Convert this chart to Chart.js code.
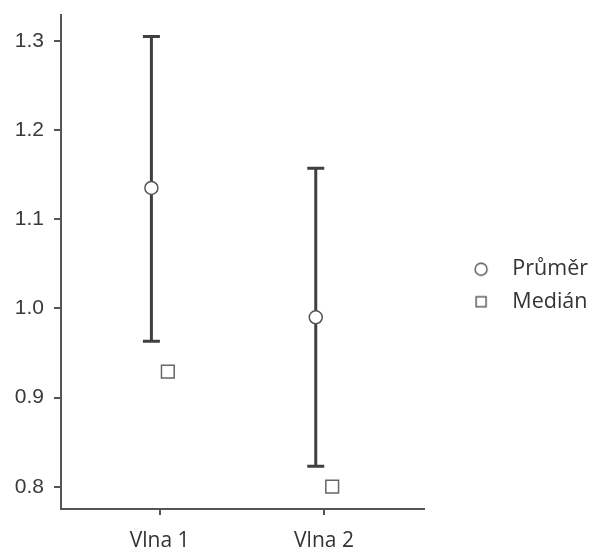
<!DOCTYPE html>
<html><head><meta charset="utf-8">
<script src="https://cdn.jsdelivr.net/npm/chart.js@4"></script>
<style>html,body{margin:0;padding:0;background:#fff;overflow:hidden}</style>
</head><body>
<canvas id="c" width="593" height="550"></canvas>
<script>
const categories = ['Vlna 1', 'Vlna 2'];
const seriesLabels = ['Průměr', 'Medián'];
const means = [1.135, 0.990];
const lowerCI = [0.963, 0.823];
const upperCI = [1.305, 1.157];
const medians = [0.929, 0.800];
const yTicks = [0.8, 0.9, 1.0, 1.1, 1.2, 1.3];

const MEAN_SHIFT = -0.05;
const MEDIAN_SHIFT = 0.05;
const CAP = 8.5;
const AXIS = '#555555';
const TEXT = '#333333';

function markerCanvas(kind) {
  const c = document.createElement('canvas');
  c.width = 16; c.height = 16;
  const g = c.getContext('2d');
  g.strokeStyle = '#555'; g.lineWidth = 1.4; g.fillStyle = '#fff';
  if (kind === 'circle') { g.beginPath(); g.arc(8, 8, 6, 0, Math.PI * 2); g.fill(); g.stroke(); }
  else { g.fillRect(3, 3, 10, 10); g.strokeRect(3, 3, 10, 10); }
  return c;
}
const legendMarkers = [markerCanvas('circle'), markerCanvas('rect')];

const errorBars = {
  id: 'errorBars',
  beforeDatasetsDraw(chart) {
    const {ctx, scales: {x, y}} = chart;
    ctx.save();
    ctx.strokeStyle = '#404040'; ctx.lineWidth = 3; ctx.lineCap = 'butt';
    categories.forEach((c, i) => {
      const px = x.getPixelForValue(i + 1 + MEAN_SHIFT);
      const top = y.getPixelForValue(upperCI[i]);
      const bot = y.getPixelForValue(lowerCI[i]);
      ctx.beginPath();
      ctx.moveTo(px, top); ctx.lineTo(px, bot);
      ctx.moveTo(px - CAP, top); ctx.lineTo(px + CAP, top);
      ctx.moveTo(px - CAP, bot); ctx.lineTo(px + CAP, bot);
      ctx.stroke();
    });
    ctx.restore();
  }
};

new Chart(document.getElementById('c'), {
  type: 'scatter',
  data: {
    datasets: [
      {
        label: seriesLabels[0],
        data: means.map((v, i) => ({x: i + 1 + MEAN_SHIFT, y: v})),
        pointStyle: 'circle', pointRadius: 6.5, pointBorderWidth: 1.5,
        backgroundColor: '#ffffff', borderColor: '#555555'
      },
      {
        label: seriesLabels[1],
        data: medians.map((v, i) => ({x: i + 1 + MEDIAN_SHIFT, y: v})),
        pointStyle: 'rect', pointRadius: 9, pointBorderWidth: 1.5,
        backgroundColor: '#ffffff', borderColor: '#666666'
      }
    ]
  },
  options: {
    responsive: false,
    animation: false,
    layout: {padding: {top: 15, right: -5, left: 0, bottom: -6}},
    plugins: {
      tooltip: {enabled: false},
      legend: {
        position: 'right',
        maxWidth: 220,
        labels: {
          usePointStyle: true,
          pointStyleWidth: 41,
          padding: 11,
          color: TEXT,
          font: {family: 'Open Sans', size: 21.5},
          generateLabels(chart) {
            const items = Chart.defaults.plugins.legend.labels.generateLabels(chart);
            return items.map(it => { it.pointStyle = legendMarkers[it.datasetIndex]; return it; });
          }
        }
      }
    },
    scales: {
      x: {
        type: 'linear', min: 0.4, max: 2.606,
        afterFit(s) { s.height = 47; s.paddingLeft = 0; s.paddingRight = 0; },
        afterBuildTicks(s) { s.ticks = categories.map((c, i) => ({value: i + 1})); },
        grid: {display: true, drawOnChartArea: false, drawTicks: true, tickLength: 6, color: AXIS, lineWidth: 2},
        border: {display: true, color: AXIS, width: 2},
        ticks: {
          padding: 13, color: TEXT, font: {family: 'Open Sans', size: 21},
          maxRotation: 0, autoSkip: false,
          callback: v => categories[Math.round(v) - 1]
        }
      },
      y: {
        type: 'linear', min: 0.775, max: 1.329,
        afterFit(s) { s.width = 61; s.paddingTop = 0; s.paddingBottom = 0; },
        afterBuildTicks(s) { s.ticks = yTicks.map(v => ({value: v})); },
        grid: {display: true, drawOnChartArea: false, drawTicks: true, tickLength: 7, color: AXIS, lineWidth: 2},
        border: {display: true, color: AXIS, width: 2},
        ticks: {
          padding: 10, color: '#3a3a3a', font: {family: 'Liberation Sans', size: 21},
          callback: v => Number(v).toFixed(1)
        }
      },
      spacer: {
        type: 'linear', position: 'right', display: true,
        afterFit(s) { s.width = 26; s.paddingTop = 0; s.paddingBottom = 0; },
        grid: {display: false}, border: {display: false}, ticks: {display: false}
      }
    }
  },
  plugins: [errorBars]
});
</script>
</body></html>
